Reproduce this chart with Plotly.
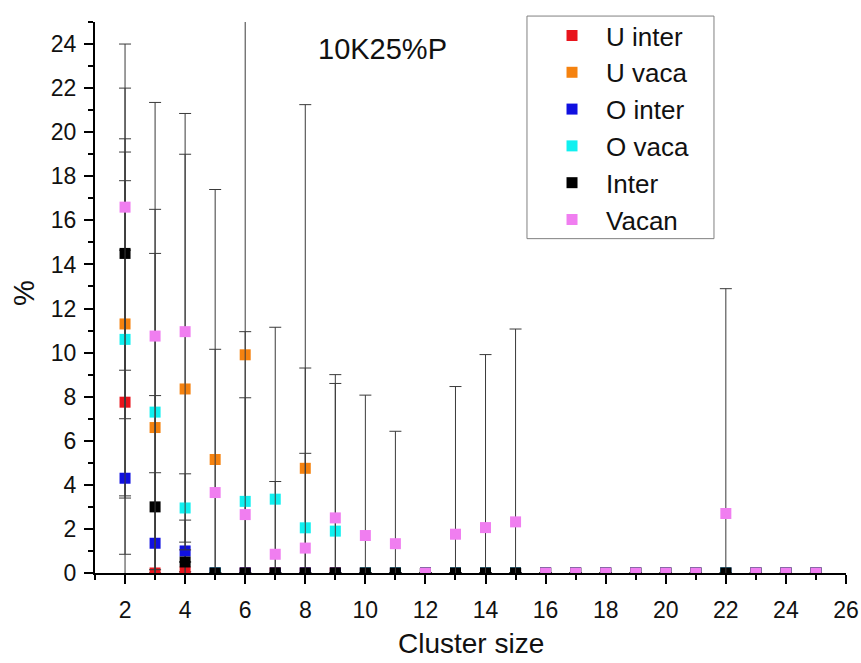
import plotly.graph_objects as go

# cluster sizes 2..25
cluster_size = list(range(2, 26))

names = ["U inter", "U vaca", "O inter", "O vaca", "Inter", "Vacan"]
colors = ["#e8141c", "#f5820f", "#1010e0", "#10f0f0", "#000000", "#f07ef0"]

u_inter = [7.75, 0, 0.05] + [0] * 21
u_inter_err = [6.9, None, None] + [None] * 21

u_vaca = [11.3, 6.6, 8.35, 5.15, 9.9, 0, 4.75] + [0] * 17
u_vaca_err = [7.8, 7.9, 10.65, 12.25, 16.0, None, 16.5] + [None] * 17

o_inter = [4.3, 1.35, 1.0] + [0] * 21
o_inter_err = [15.4, 3.2, 1.4] + [None] * 21

o_vaca = [10.6, 7.3, 2.95, 0, 3.25, 3.35, 2.05, 1.9] + [0] * 16
o_vaca_err = [7.2, 9.2, 1.55, None, 7.7, 7.8, 7.25, 6.7] + [None] * 16

inter = [14.5, 3.0, 0.5] + [0] * 21
inter_err = [7.5, 5.05, None] + [None] * 21

vacan = [16.6, 10.75, 10.95, 3.65, 2.65, 0.85, 1.13, 2.5, 1.7, 1.33, 0, 1.76,
         2.06, 2.32, 0, 0, 0, 0, 0, 0, 2.7, 0, 0, 0]
vacan_err = [7.4, 10.6, 9.9, 6.5, 5.3, 3.3, 4.3, 6.5, 6.37, 5.1, None, 6.7,
             7.85, 8.75, None, None, None, None, None, None, 10.2, None, None, None]

series = [u_inter, u_vaca, o_inter, o_vaca, inter, vacan]
errors = [u_inter_err, u_vaca_err, o_inter_err, o_vaca_err, inter_err, vacan_err]

FONT = "Liberation Sans, Arial, sans-serif"

fig = go.Figure()
for name, color, ys, errs in zip(names, colors, series, errors):
  fig.add_trace(go.Scatter(
      x=cluster_size, y=ys, name=name, mode="markers",
      marker=dict(symbol="square", size=11, color=color),
      error_y=dict(type="data", array=errs, visible=True, color="#3a3a3a", thickness=1, width=6)))

fig.update_layout(
    width=861, height=663,
    margin=dict(l=95, r=15, t=16, b=90),
    paper_bgcolor="white", plot_bgcolor="white",
    font=dict(family=FONT, color="#111111"),
    showlegend=True,
    legend=dict(x=0.5899, y=1.018, xanchor="left", yanchor="top",
                borderwidth=0, bgcolor="rgba(0,0,0,0)",
                font=dict(size=26), itemwidth=58),
    shapes=[dict(type="rect", xref="paper", yref="paper", x0=0.5752, x1=0.8242, y0=0.6068, y1=1.0108,
                 line=dict(color="#808080", width=1), fillcolor="rgba(0,0,0,0)", layer="above")],
    annotations=[
        dict(text="10K25%P", xref="paper", yref="paper", x=0.2943, y=0.9515,
             xanchor="left", yanchor="middle", showarrow=False, font=dict(size=29)),
        dict(text="Cluster size", xref="paper", yref="paper", x=0.5, y=-0.1275,
             xanchor="center", yanchor="middle", showarrow=False, font=dict(size=28)),
        dict(text="%", xref="paper", yref="paper", x=-0.0945, y=0.508, textangle=-90,
             xanchor="center", yanchor="middle", showarrow=False, font=dict(size=29)),
    ],
)
fig.update_xaxes(
    range=[1, 26], tick0=2, dtick=2, showgrid=False, zeroline=False, automargin=False,
    showline=True, linecolor="black", linewidth=2,
    ticks="outside", ticklen=9, tickwidth=2, tickcolor="black", tickfont=dict(size=23),
    ticklabelstandoff=6,
    minor=dict(dtick=1, tick0=1, ticks="outside", ticklen=5, tickwidth=2, tickcolor="black"))
fig.update_yaxes(
    range=[0, 25], tick0=0, dtick=2, showgrid=False, zeroline=False, automargin=False,
    showline=True, linecolor="black", linewidth=2,
    ticks="outside", ticklen=9, tickwidth=2, tickcolor="black", tickfont=dict(size=23),
    ticklabelstandoff=3,
    minor=dict(dtick=1, tick0=1, ticks="outside", ticklen=5, tickwidth=2, tickcolor="black"))

# drop the default 8px body margin so the figure fills the window exactly
fig.write_html("out.html", config={"displayModeBar": False},
               post_script="document.body.style.margin = '0'; document.body.style.overflow = 'hidden';")
